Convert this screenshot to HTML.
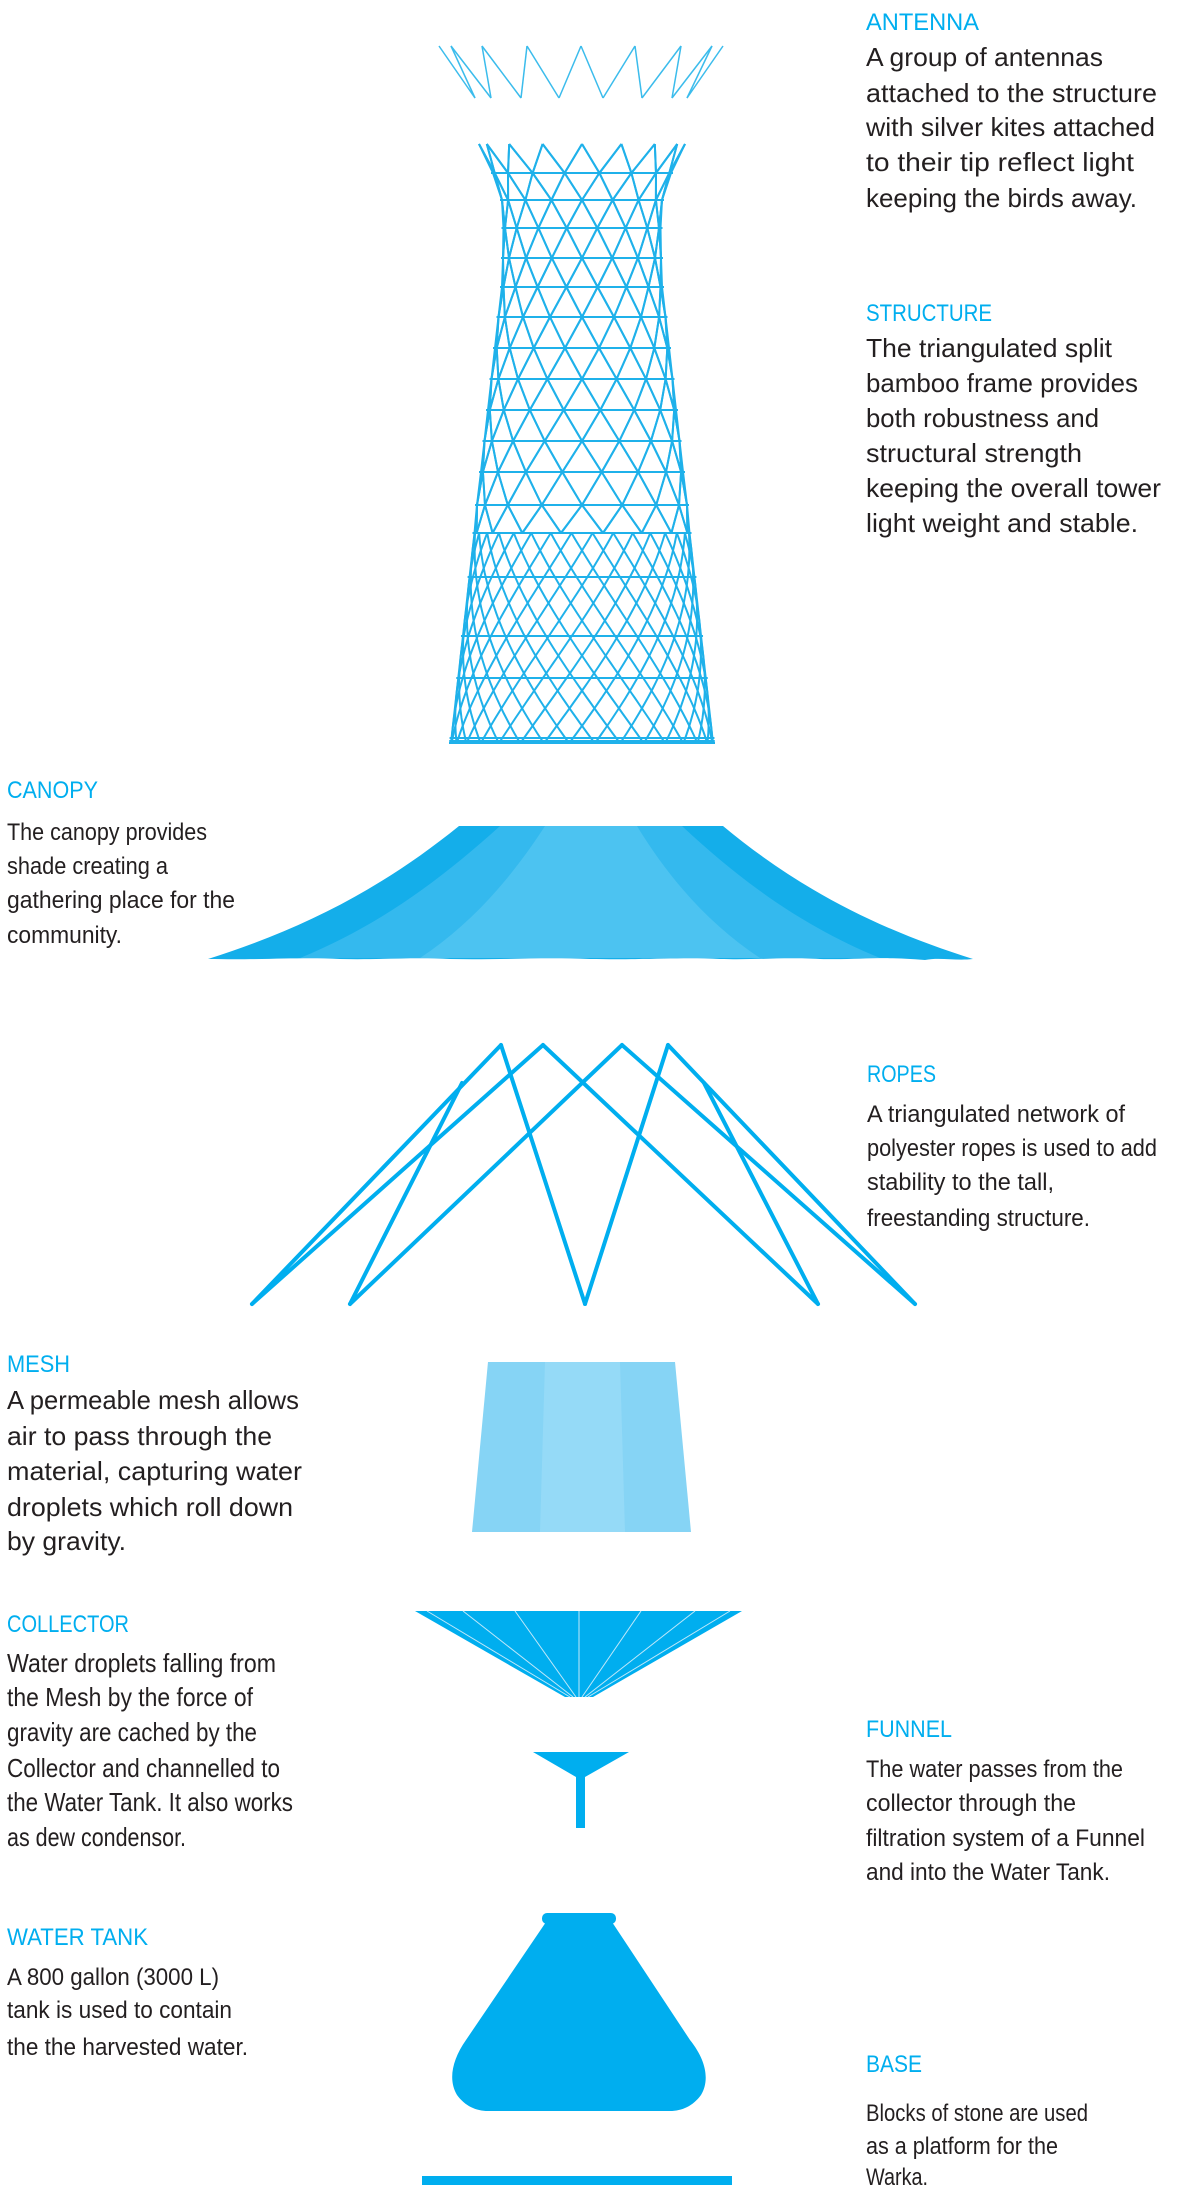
<!DOCTYPE html>
<html><head><meta charset="utf-8"><style>
html,body{margin:0;padding:0;background:#fff;}
svg{display:block;}
.t{font-family:"Liberation Sans",sans-serif;font-size:24px;fill:#00aeef;}
.b{font-family:"Liberation Sans",sans-serif;font-size:24px;fill:#231f20;}
.bb{font-family:"Liberation Sans",sans-serif;font-size:26px;fill:#231f20;}
</style></head><body>
<svg id="s" width="1200" height="2197" viewBox="0 0 1200 2197" xmlns="http://www.w3.org/2000/svg">
<g id="tower" stroke="#1fb1ea" fill="none" stroke-width="2"></g>
<g id="ant" stroke="#3bbcec" fill="none" stroke-width="1.5"></g>
<!-- canopy -->
<path d="M459 826 L723 826 C800 890 880 930 973 959 C955 961 940 957 925 960 C880 956 860 960 820 959 C780 957 760 960 720 959 C680 957 650 960 590 959 C540 957 500 960 450 959 C410 957 380 960 340 959 C300 957 270 960 208 959 C300 930 380 890 459 826 Z" fill="#14aeea"/>
<path d="M500 826 L682 826 C740 880 800 925 880 958 L300 958 C380 925 440 880 500 826 Z" fill="#34b9ee"/>
<path d="M545 826 L637 826 C670 880 710 925 760 958 L420 958 C470 925 510 880 545 826 Z" fill="#4cc3f1"/>
<!-- ropes -->
<g stroke="#00aeef" stroke-width="4" fill="none" stroke-linecap="round">
<line x1="252" y1="1304" x2="501" y2="1045"/>
<line x1="252" y1="1304" x2="543" y2="1045"/>
<line x1="350" y1="1304" x2="462" y2="1083"/>
<line x1="350" y1="1304" x2="622" y2="1045"/>
<line x1="585" y1="1304" x2="501" y2="1045"/>
<line x1="585" y1="1304" x2="668" y2="1045"/>
<line x1="818" y1="1304" x2="543" y2="1045"/>
<line x1="818" y1="1304" x2="704" y2="1083"/>
<line x1="915" y1="1304" x2="622" y2="1045"/>
<line x1="915" y1="1304" x2="668" y2="1045"/>
</g>
<!-- mesh -->
<path d="M488 1362 L675 1362 L691 1532 L472 1532 Z" fill="#86d4f5"/>
<path d="M545 1362 L620 1362 L625 1532 L540 1532 Z" fill="#95daf7"/>
<!-- collector -->
<path d="M415 1611 L742 1611 L593 1697 L565 1697 Z" fill="#00aeef"/>
<g stroke="#bfe8fa" stroke-width="1">
<line x1="427" y1="1611" x2="570" y2="1697"/><line x1="463" y1="1611" x2="573" y2="1697"/>
<line x1="515" y1="1611" x2="576" y2="1697"/><line x1="579" y1="1611" x2="579" y2="1697"/>
<line x1="641" y1="1611" x2="582" y2="1697"/><line x1="695" y1="1611" x2="585" y2="1697"/>
<line x1="730" y1="1611" x2="588" y2="1697"/>
</g>
<!-- funnel -->
<path d="M533 1752 L629 1752 L585 1777 L585 1828 L576 1828 L576 1777 Z" fill="#00aeef"/>
<!-- tank -->
<rect x="542" y="1913" width="74" height="11" rx="5" fill="#00aeef"/>
<path d="M546 1922 L612 1922 L690 2040 C706 2060 710 2080 701 2095 C693 2106 682 2111 670 2111 L488 2111 C476 2111 465 2106 457 2095 C448 2080 452 2060 466 2040 Z" fill="#00aeef"/>
<rect x="422" y="2176" width="310" height="9" fill="#00aeef"/>

<!-- right text -->
<text class="t" x="866" y="30" textLength="113" lengthAdjust="spacingAndGlyphs">ANTENNA</text>
<text class="bb" x="866" y="66" textLength="237" lengthAdjust="spacingAndGlyphs">A group of antennas</text>
<text class="bb" x="866" y="102" textLength="291" lengthAdjust="spacingAndGlyphs">attached to the structure</text>
<text class="bb" x="866" y="136" textLength="289" lengthAdjust="spacingAndGlyphs">with silver kites attached</text>
<text class="bb" x="866" y="171" textLength="268" lengthAdjust="spacingAndGlyphs">to their tip reflect light</text>
<text class="bb" x="866" y="207" textLength="271" lengthAdjust="spacingAndGlyphs">keeping the birds away.</text>
<text class="t" x="866" y="321" textLength="126" lengthAdjust="spacingAndGlyphs">STRUCTURE</text>
<text class="bb" x="866" y="357" textLength="246" lengthAdjust="spacingAndGlyphs">The triangulated split</text>
<text class="bb" x="866" y="392" textLength="272" lengthAdjust="spacingAndGlyphs">bamboo frame provides</text>
<text class="bb" x="866" y="427" textLength="233" lengthAdjust="spacingAndGlyphs">both robustness and</text>
<text class="bb" x="866" y="462" textLength="216" lengthAdjust="spacingAndGlyphs">structural strength</text>
<text class="bb" x="866" y="497" textLength="295" lengthAdjust="spacingAndGlyphs">keeping the overall tower</text>
<text class="bb" x="866" y="532" textLength="272" lengthAdjust="spacingAndGlyphs">light weight and stable.</text>

<text class="t" x="867" y="1082" textLength="69" lengthAdjust="spacingAndGlyphs">ROPES</text>
<text class="b" x="867" y="1122" textLength="258" lengthAdjust="spacingAndGlyphs">A triangulated network of</text>
<text class="b" x="867" y="1156" textLength="290" lengthAdjust="spacingAndGlyphs">polyester ropes is used to add</text>
<text class="b" x="867" y="1190" textLength="187" lengthAdjust="spacingAndGlyphs">stability to the tall,</text>
<text class="b" x="867" y="1226" textLength="223" lengthAdjust="spacingAndGlyphs">freestanding structure.</text>

<text class="t" x="866" y="1737" textLength="86" lengthAdjust="spacingAndGlyphs">FUNNEL</text>
<text class="b" x="866" y="1777" textLength="257" lengthAdjust="spacingAndGlyphs">The water passes from the</text>
<text class="b" x="866" y="1811" textLength="210" lengthAdjust="spacingAndGlyphs">collector through the</text>
<text class="b" x="866" y="1846" textLength="279" lengthAdjust="spacingAndGlyphs">filtration system of a Funnel</text>
<text class="b" x="866" y="1880" textLength="244" lengthAdjust="spacingAndGlyphs">and into the Water Tank.</text>

<text class="t" x="866" y="2072" textLength="56" lengthAdjust="spacingAndGlyphs">BASE</text>
<text class="b" x="866" y="2121" textLength="222" lengthAdjust="spacingAndGlyphs">Blocks of stone are used</text>
<text class="b" x="866" y="2154" textLength="192" lengthAdjust="spacingAndGlyphs">as a platform for the</text>
<text class="b" x="866" y="2185" textLength="62" lengthAdjust="spacingAndGlyphs">Warka.</text>

<!-- left text -->
<text class="t" x="7" y="798" textLength="91" lengthAdjust="spacingAndGlyphs">CANOPY</text>
<text class="b" x="7" y="840" textLength="200" lengthAdjust="spacingAndGlyphs">The canopy provides</text>
<text class="b" x="7" y="874" textLength="161" lengthAdjust="spacingAndGlyphs">shade creating a</text>
<text class="b" x="7" y="908" textLength="228" lengthAdjust="spacingAndGlyphs">gathering place for the</text>
<text class="b" x="7" y="943" textLength="115" lengthAdjust="spacingAndGlyphs">community.</text>

<text class="t" x="7" y="1372" textLength="63" lengthAdjust="spacingAndGlyphs">MESH</text>
<text class="bb" x="7" y="1409" textLength="292" lengthAdjust="spacingAndGlyphs">A permeable mesh allows</text>
<text class="bb" x="7" y="1445" textLength="265" lengthAdjust="spacingAndGlyphs">air to pass through the</text>
<text class="bb" x="7" y="1480" textLength="295" lengthAdjust="spacingAndGlyphs">material, capturing water</text>
<text class="bb" x="7" y="1516" textLength="286" lengthAdjust="spacingAndGlyphs">droplets which roll down</text>
<text class="bb" x="7" y="1550" textLength="119" lengthAdjust="spacingAndGlyphs">by gravity.</text>

<text class="t" x="7" y="1632" textLength="122" lengthAdjust="spacingAndGlyphs">COLLECTOR</text>
<text class="bb" x="7" y="1672" textLength="269" lengthAdjust="spacingAndGlyphs">Water droplets falling from</text>
<text class="bb" x="7" y="1706" textLength="246" lengthAdjust="spacingAndGlyphs">the Mesh by the force of</text>
<text class="bb" x="7" y="1741" textLength="250" lengthAdjust="spacingAndGlyphs">gravity are cached by the</text>
<text class="bb" x="7" y="1777" textLength="273" lengthAdjust="spacingAndGlyphs">Collector and channelled to</text>
<text class="bb" x="7" y="1811" textLength="286" lengthAdjust="spacingAndGlyphs">the Water Tank. It also works</text>
<text class="bb" x="7" y="1846" textLength="179" lengthAdjust="spacingAndGlyphs">as dew condensor.</text>

<text class="t" x="7" y="1945" textLength="141" lengthAdjust="spacingAndGlyphs">WATER TANK</text>
<text class="b" x="7" y="1985" textLength="212" lengthAdjust="spacingAndGlyphs">A 800 gallon (3000 L)</text>
<text class="b" x="7" y="2018" textLength="225" lengthAdjust="spacingAndGlyphs">tank is used to contain</text>
<text class="b" x="7" y="2055" textLength="241" lengthAdjust="spacingAndGlyphs">the the harvested water.</text>
</svg>
<script>
(function(){
var NS="http://www.w3.org/2000/svg";
function el(p,tag,a){var e=document.createElementNS(NS,tag);for(var k in a)e.setAttribute(k,a[k]);p.appendChild(e);return e;}
var ant=document.getElementById('ant');
var A=[[439,475],[451,475],[451,491],[482,491],[482,521],[527,521],[527,559],[581,559],[581,603],[635,603],[635,642],[681,642],[681,672],[712,672],[712,687],[723,687]];
A.forEach(function(s){el(ant,'line',{x1:s[0],y1:46,x2:s[1],y2:98});});
var g=document.getElementById('tower');
var cx=582;
var RY=[144,173,200,228,258,287,317,348,379,410,441,472,505,533];
var RW=[103,89,80,78.5,79,80,83.5,87,90.5,94,97.5,101,105,107.5];
var N=16;
for(var j=0;j<N;j++){
  for(var dir=-1;dir<=1;dir+=2){
    var pts=[];
    for(var k=0;k<RY.length;k++){
      var th=2*Math.PI*j/N+dir*k*Math.PI/N;
      pts.push((cx+RW[k]*Math.sin(th)).toFixed(1)+","+RY[k]);
    }
    el(g,'polyline',{points:pts.join(' ')});
  }
}
for(var k=1;k<RY.length;k++){
  el(g,'line',{x1:cx-RW[k]-2,y1:RY[k],x2:cx+RW[k]+2,y2:RY[k]});
}
function w(y){return 107.5+(y-533)*(23.5/210);}
var s=0.0056, M=16;
for(var j=0;j<M;j++){
  for(var dir=-1;dir<=1;dir+=2){
    var pts=[];
    for(var y=533;y<=743;y+=5){
      var th=2*Math.PI*j/M+Math.PI/M/2+dir*s*(y-533);
      pts.push((cx+w(y)*Math.sin(th)).toFixed(1)+","+y);
    }
    el(g,'polyline',{points:pts.join(' ')});
  }
}
[577,636,678,738,741,743].forEach(function(y){el(g,'line',{x1:cx-w(y)-2,y1:y,x2:cx+w(y)+2,y2:y});});
var L=[],R=[];
for(var k=0;k<RY.length;k++){L.push((cx-RW[k])+","+RY[k]);R.push((cx+RW[k])+","+RY[k]);}
L.push((cx-131)+",743");R.push((cx+131)+",743");
el(g,'polyline',{points:L.join(' ')});el(g,'polyline',{points:R.join(' ')});
})();
</script>
</body></html>
